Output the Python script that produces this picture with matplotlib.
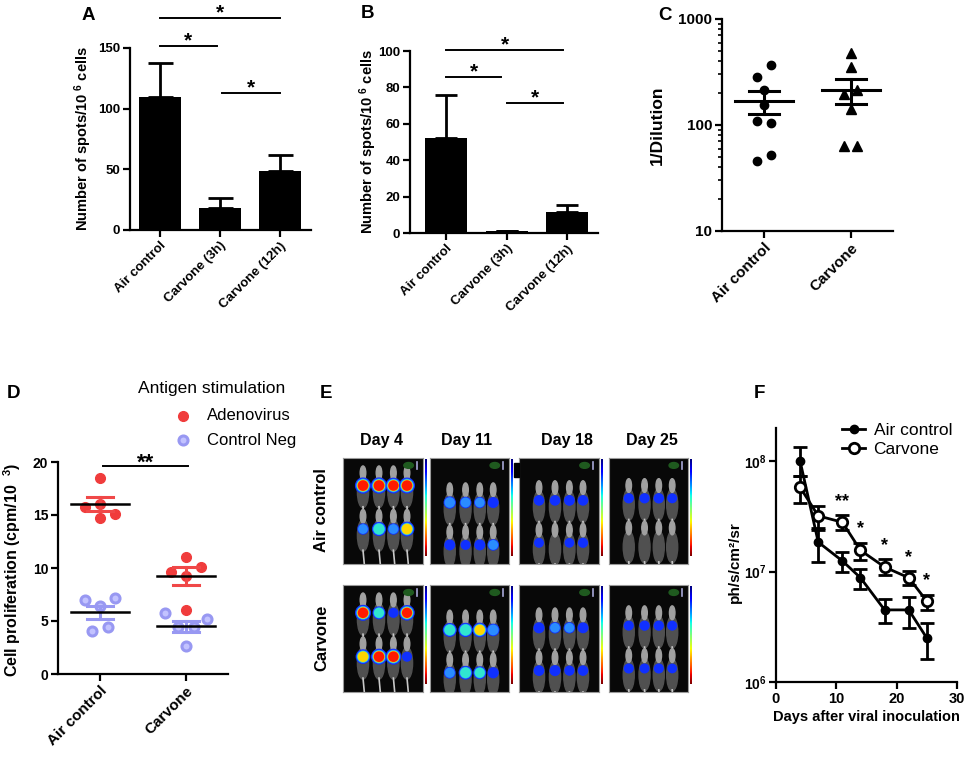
import numpy as np
import matplotlib
matplotlib.use("Agg")
import matplotlib.pyplot as plt
from matplotlib.lines import Line2D
from matplotlib.patches import Ellipse, Rectangle
from matplotlib.ticker import FixedLocator, FuncFormatter, LogLocator, NullFormatter

plt.rcParams['font.family'] = ['Liberation Sans', 'DejaVu Sans']
plt.rcParams['mathtext.fontset'] = 'custom'
plt.rcParams['mathtext.rm'] = 'Liberation Sans'
plt.rcParams['mathtext.bf'] = 'Liberation Sans:bold'
plt.rcParams['mathtext.it'] = 'Liberation Sans:italic'

# ---------------- data ----------------
# Panel A
a_cats = ["Air control", "Carvone (3h)", "Carvone (12h)"]
a_mean = [110, 18, 49]
a_err = [28, 8, 13]
# Panel B
b_cats = ["Air control", "Carvone (3h)", "Carvone (12h)"]
b_mean = [52, 1.0, 11.5]
b_err = [24, 0.3, 4.0]
# significance brackets: (from, to, level, label)
a_sig = [(0, 2, 175, "*"), (0, 0.95, 152, "*"), (1.03, 2, 113, "*")]
b_sig = [(0, 1.93, 100.5, "*"), (0, 0.9, 85.7, "*"), (1.0, 1.93, 71.4, "*")]

# Panel C
c_cats = ["Air control", "Carvone"]
c_air = [368, 286, 214, 155, 110, 104, 52, 46]
c_carv = [475, 355, 214, 196, 141, 63, 63]

# Panel D
d_cats = ["Air control", "Carvone"]
d_air_adeno = [18.46, 15.79, 16.0, 15.09, 14.75]
d_carv_adeno = [11.0, 10.12, 9.65, 9.25, 6.04]
d_air_neg = [6.98, 7.14, 6.42, 4.09, 4.4]
d_carv_neg = [5.79, 5.19, 4.47, 4.47, 2.67]
d_sig = [(0.03, 1.02, 19.6, "**")]

# Panel E (relative signal intensity per mouse, 2 rows x 4 mice)
e_days = ["Day 4", "Day 11", "Day 18", "Day 25"]
e_groups = ["Air control", "Carvone"]
e_air = [[0.9, 0.92, 0.85, 0.88, 0.3, 0.65, 0.3, 0.72],
         [0.42, 0.33, 0.3, 0.26, 0.25, 0.13, 0.25, 0.32],
         [0.2, 0.2, 0.22, 0.2, 0.12, 0.0, 0.1, 0.16],
         [0.16, 0.16, 0.18, 0.13, 0.0, 0.0, 0.0, 0.0]]
e_carv = [[0.88, 0.5, 0.15, 0.82, 0.72, 0.88, 0.88, 0.14],
          [0.62, 0.66, 0.7, 0.45, 0.35, 0.6, 0.5, 0.28],
          [0.26, 0.3, 0.3, 0.24, 0.22, 0.26, 0.16, 0.2],
          [0.14, 0.16, 0.16, 0.13, 0.14, 0.13, 0.14, 0.1]]

# Panel F
f_days = [4, 7, 11, 14, 18, 22, 25]
f_air = [1.0e8, 1.85e7, 1.25e7, 8.8e6, 4.5e6, 4.5e6, 2.5e6]
f_air_hi = [1.35e8, 2.4e7, 1.5e7, 1.06e7, 5.6e6, 5.9e6, 3.45e6]
f_air_lo = [7.4e7, 1.22e7, 1.0e7, 6.9e6, 3.4e6, 3.1e6, 1.6e6]
f_carv = [5.8e7, 3.2e7, 2.8e7, 1.56e7, 1.1e7, 8.8e6, 5.4e6]
f_carv_hi = [7.4e7, 3.9e7, 3.25e7, 1.83e7, 1.29e7, 1.01e7, 6.2e6]
f_carv_lo = [4.2e7, 2.5e7, 2.4e7, 1.27e7, 9.3e6, 7.6e6, 4.5e6]
f_stars = ["", "", "**", "*", "*", "*", "*"]

# ---------------- layout helpers ----------------
W, H = 965, 761
fig = plt.figure(figsize=(W / 100, H / 100), dpi=100)


def rect(l, t, r, b):
    return [l / W, 1 - b / H, (r - l) / W, (b - t) / H]


def style(ax, lw=1.6, size=9.5):
    for s in ["top", "right"]:
        ax.spines[s].set_visible(False)
    for s in ["left", "bottom"]:
        ax.spines[s].set_linewidth(lw)
    ax.tick_params(axis="both", which="major", direction="out", length=5, width=lw,
                   labelsize=size, pad=2)
    for lab in ax.get_yticklabels():
        lab.set_fontweight("bold")


def panel_label(x, y, s):
    fig.text(x / W, 1 - y / H, s, fontsize=13.5, fontweight="bold", ha="center", va="center")


def cat_labels(ax, cats, size=10):
    ax.set_xticks(range(len(cats)))
    ax.set_xticklabels(cats, rotation=45, ha="right", rotation_mode="anchor",
                       fontweight="bold", fontsize=size)


def brackets(ax, sig, star_size=15, off=0.0):
    for x1, x2, yv, lab in sig:
        ax.plot([x1, x2], [yv, yv], color="black", lw=1.4, clip_on=False)
        ax.text((x1 + x2) / 2, yv + off, lab, ha="center", va="bottom",
                fontsize=star_size, fontweight="bold", clip_on=False)


# ---------------- Panel A ----------------
axA = fig.add_axes(rect(130, 48, 311, 230))
xa = np.arange(len(a_cats))
axA.bar(xa, a_mean, width=0.7, color="black")
axA.errorbar(xa, a_mean, yerr=[np.zeros(len(xa)), a_err], fmt="none", ecolor="black",
             elinewidth=2, capsize=9, capthick=2)
axA.set_xlim(-0.5, 2.52)
axA.set_ylim(0, 150)
axA.set_yticks([0, 50, 100, 150])
style(axA)
cat_labels(axA, a_cats, size=9.5)
axA.set_ylabel(r"Number of spots/10 $^{\mathbf{6}}$ cells", fontsize=10.5, fontweight="bold")
axA.yaxis.set_label_coords(-0.20, 0.5)
brackets(axA, a_sig, off=-4)
panel_label(88, 15, "A")

# ---------------- Panel B ----------------
axB = fig.add_axes(rect(410, 51, 598, 233))
xb = np.arange(len(b_cats))
axB.bar(xb, b_mean, width=0.69, color="black")
axB.errorbar(xb, b_mean, yerr=[np.zeros(len(xb)), b_err], fmt="none", ecolor="black",
             elinewidth=2, capsize=8, capthick=2)
axB.set_xlim(-0.6, 2.51)
axB.set_ylim(0, 100)
axB.set_yticks([0, 20, 40, 60, 80, 100])
style(axB)
cat_labels(axB, b_cats, size=9.5)
axB.set_ylabel(r"Number of spots/10 $^{\mathbf{6}}$ cells", fontsize=10.5, fontweight="bold")
axB.yaxis.set_label_coords(-0.165, 0.5)
brackets(axB, b_sig, off=-2.5)
panel_label(368, 13, "B")

# ---------------- Panel C ----------------
axC = fig.add_axes(rect(722, 19, 893, 231))
c_jit_air = [0.077, -0.077, 0, 0, -0.077, 0.077, 0.077, -0.077]
c_jit_carv = [0, 0, 0.07, -0.077, 0, -0.077, 0.07]
axC.plot(np.array(c_jit_air) + 0, c_air, "o", color="black", ms=6, ls="none")
axC.plot(np.array(c_jit_carv) + 1, c_carv, "^", color="black", ms=6.5, ls="none")
for i, vals in enumerate([c_air, c_carv]):
    v = np.array(vals, float)
    m = v.mean()
    se = v.std(ddof=1) / np.sqrt(len(v))
    axC.plot([i - 0.33, i + 0.33], [m, m], color="black", lw=2.2)
    axC.plot([i, i], [m - se, m + se], color="black", lw=2.2)
    for yy in (m - se, m + se):
        axC.plot([i - 0.17, i + 0.17], [yy, yy], color="black", lw=2.2)
axC.set_yscale("log")
axC.set_ylim(10, 1000)
axC.set_xlim(-0.48, 1.48)
axC.yaxis.set_major_locator(FixedLocator([10, 100, 1000]))
axC.yaxis.set_major_formatter(FuncFormatter(lambda v, p: "%d" % v))
axC.yaxis.set_minor_locator(LogLocator(base=10, subs=np.arange(2, 10)))
axC.yaxis.set_minor_formatter(NullFormatter())
style(axC, size=11)
axC.tick_params(axis="y", which="minor", length=3, width=1.2)
cat_labels(axC, c_cats, size=11)
axC.set_ylabel("1/Dilution", fontsize=12.5, fontweight="bold")
axC.yaxis.set_label_coords(-0.333, 0.5)
panel_label(665, 15, "C")

# ---------------- Panel D ----------------
axD = fig.add_axes(rect(58, 462, 228, 674))
red = "#f03c3c"
red_line = "#f04848"
blue_face = "#c2c2ff"
blue_edge = "#9898f2"
d_jit = {
    "air_adeno": [0, -0.175, 0, 0.175, 0],
    "carv_adeno": [0, 0.175, -0.175, 0, 0],
    "air_neg": [-0.175, 0.175, 0, -0.09, 0.09],
    "carv_neg": [-0.245, 0.245, -0.09, 0.09, 0],
}
groups = [
    (0, d_air_neg, d_jit["air_neg"], "neg"),
    (1, d_carv_neg, d_jit["carv_neg"], "neg"),
    (0, d_air_adeno, d_jit["air_adeno"], "adeno"),
    (1, d_carv_adeno, d_jit["carv_adeno"], "adeno"),
]
for xi, vals, jit, kind in groups:
    v = np.array(vals, float)
    if kind == "adeno":
        axD.plot(xi + np.array(jit), v, "o", ms=7, mfc=red, mec=red, ls="none", zorder=3)
        lc = red_line
    else:
        axD.plot(xi + np.array(jit), v, "o", ms=6.5, mfc=blue_face, mec=blue_edge, mew=2.2,
                 ls="none", zorder=3)
        lc = blue_edge
    m = v.mean()
    se = v.std(ddof=1) / np.sqrt(len(v))
    axD.plot([xi, xi], [m - se, m + se], color=lc, lw=2.2, zorder=4)
    for yy in (m - se, m + se):
        axD.plot([xi - 0.15, xi + 0.15], [yy, yy], color=lc, lw=2.2, zorder=4)
    axD.plot([xi - 0.34, xi + 0.34], [m, m], color="black", lw=1.8, zorder=5)
axD.set_xlim(-0.49, 1.49)
axD.set_ylim(0, 20)
axD.set_yticks([0, 5, 10, 15, 20])
style(axD, size=10)
cat_labels(axD, d_cats, size=11)
axD.set_ylabel("Cell proliferation (cpm/10  $^{\\mathbf{3}}$)", fontsize=11.5, fontweight="bold")
axD.yaxis.set_label_coords(-0.206, 0.49)
brackets(axD, d_sig, star_size=16, off=-0.7)
panel_label(14, 393, "D")
# legend of panel D
fig.text(138 / W, 1 - 389 / H, "Antigen stimulation", fontsize=12.5, ha="left", va="center")
fig.add_artist(Line2D([183 / W], [1 - 416 / H], marker="o", ms=7, mfc=red, mec=red,
                      transform=fig.transFigure))
fig.add_artist(Line2D([183 / W], [1 - 440 / H], marker="o", ms=6.5, mfc=blue_face, mec=blue_edge,
                      mew=2.2, transform=fig.transFigure))
fig.text(207 / W, 1 - 416 / H, "Adenovirus", fontsize=12, ha="left", va="center")
fig.text(207 / W, 1 - 440 / H, "Control Neg", fontsize=12, ha="left", va="center")

# ---------------- Panel E ----------------
panel_label(326, 393, "E")
col_x = [(343, 423), (430, 509), (519, 599), (609, 688)]
row_y = [(458, 564), (585, 692)]
head_x = [382, 467, 567, 652]
for j, d in enumerate(e_days):
    fig.text(head_x[j] / W, 1 - 440 / H, d, fontsize=11.5, fontweight="bold", ha="center", va="center")
fig.text(322 / W, 1 - 510 / H, e_groups[0], fontsize=12, fontweight="bold", rotation=90,
         ha="center", va="center")
fig.text(322 / W, 1 - 638 / H, e_groups[1], fontsize=12, fontweight="bold", rotation=90,
         ha="center", va="center")
blob_rows = [(0.74, 0.33), (0.58, 0.18), (0.6, 0.2), (0.62, 0.22)]
mouse_cols = [0.25, 0.45, 0.63, 0.8]
levels = [0.05, 0.3, 0.5, 0.68, 0.82]
level_cols = ["#1030ff", "#2a8cff", "#30e6d0", "#ffd400", "#ff1a00"]
level_frac = [1.0, 0.86, 0.78, 0.72, 0.66]
grad = np.linspace(0, 1, 120)[:, None]
for gi, data in enumerate([e_air, e_carv]):
    t, b = row_y[gi]
    for j in range(4):
        l, r = col_x[j]
        ax = fig.add_axes(rect(l, t, r, b))
        ax.set_facecolor("#080808")
        ax.set_xlim(0, 1)
        ax.set_ylim(0, 1)
        ax.set_xticks([])
        ax.set_yticks([])
        for s in ax.spines.values():
            s.set_color("#9a9a9a")
            s.set_linewidth(0.8)
        ytop, ybot = blob_rows[j]
        for k in range(8):
            xm = mouse_cols[k % 4]
            ym = ytop if k < 4 else ybot
            # mouse silhouette
            ax.add_patch(Ellipse((xm, ym - 0.06), 0.14, 0.3, color="#505050", zorder=1))
            ax.add_patch(Ellipse((xm, ym + 0.12), 0.07, 0.13, color="#a0a0a0", zorder=1))
            ax.plot([xm, xm + 0.02], [ym - 0.2, ym - 0.36], color="#c8c8c8", lw=1.2, zorder=1)
            v = data[j][k]
            if v <= 0:
                continue
            r0 = 4.5 + 4.0 * v  # px
            for lev, col, frac in zip(levels, level_cols, level_frac):
                if lev > v + 1e-9:
                    break
                rr = r0 * frac
                s_pt = (2 * rr / 1.389) ** 2
                ax.scatter([xm], [ym], s=s_pt, color=col, zorder=3, edgecolors="none")
        ax.add_patch(Ellipse((0.82, 0.93), 0.12, 0.055, color="#1f5a1f", zorder=4))
        ax.plot([0.92, 0.92], [0.9, 0.965], color="#a8a8d8", lw=1.2, zorder=4)
        cax = fig.add_axes(rect(r + 2, t + 1, r + 4, b - 8))
        cax.imshow(grad, aspect="auto", cmap="jet", origin="upper")
        cax.axis("off")
fig.add_artist(Rectangle((514 / W, 1 - 477 / H), 5 / W, 14 / H, color="black",
                         transform=fig.transFigure))

# ---------------- Panel F ----------------
axF = fig.add_axes(rect(776, 428, 957, 682))
fa = np.array(f_air)
fc = np.array(f_carv)
axF.errorbar(f_days, fa, yerr=[fa - np.array(f_air_lo), np.array(f_air_hi) - fa], color="black",
             lw=2, elinewidth=2, capsize=5, capthick=2, marker="o", ms=6, mfc="black", zorder=3)
axF.errorbar(f_days, fc, yerr=[fc - np.array(f_carv_lo), np.array(f_carv_hi) - fc], color="black",
             lw=2, elinewidth=2, capsize=5, capthick=2, marker="o", ms=7.5, mfc="white", mew=2,
             zorder=4)
for d, hi, lab in zip(f_days, f_carv_hi, f_stars):
    if lab:
        axF.text(d, hi * 1.12, lab, ha="center", va="bottom", fontsize=13, fontweight="bold")
axF.set_yscale("log")
axF.set_ylim(1e6, 2e8)
axF.set_xlim(0, 30)
axF.set_xticks([0, 10, 20, 30])
axF.yaxis.set_major_locator(FixedLocator([1e6, 1e7, 1e8]))
axF.yaxis.set_major_formatter(FuncFormatter(lambda v, p: r"$\mathbf{10^{%d}}$" % round(np.log10(v))))
axF.yaxis.set_minor_locator(FixedLocator([]))
style(axF, size=10.5)
for lab in axF.get_xticklabels():
    lab.set_fontweight("bold")
axF.tick_params(axis="y", labelsize=10)
axF.set_xlabel("Days after viral inoculation", fontsize=10.5, fontweight="bold", labelpad=3)
axF.set_ylabel("ph/s/cm²/sr", fontsize=11, fontweight="bold")
axF.yaxis.set_label_coords(-0.19, 0.47)
handles = [Line2D([], [], color="black", lw=2, marker="o", ms=6, mfc="black"),
           Line2D([], [], color="black", lw=2, marker="o", ms=7.5, mfc="white", mew=2)]
axF.legend(handles, ["Air control", "Carvone"], loc="upper right", bbox_to_anchor=(1.03, 1.06),
           frameon=False, fontsize=12.5, handlelength=1.3, handletextpad=0.5, labelspacing=0.2,
           borderaxespad=0.2)
panel_label(759, 393, "F")

fig.savefig("out.png", dpi=100)
